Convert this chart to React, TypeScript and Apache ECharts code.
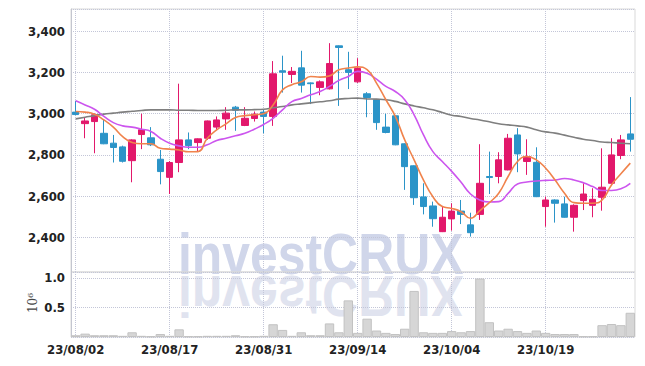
import React, { useEffect, useRef } from "react";
import * as echarts from "echarts";

const dates = [
  "23/08/02", "23/08/03", "23/08/04", "23/08/07", "23/08/08", "23/08/09", "23/08/10", "23/08/11", "23/08/14", "23/08/16",
  "23/08/17", "23/08/18", "23/08/21", "23/08/22", "23/08/23", "23/08/24", "23/08/25", "23/08/28", "23/08/29", "23/08/30",
  "23/08/31", "23/09/01", "23/09/04", "23/09/05", "23/09/06", "23/09/07", "23/09/08", "23/09/11", "23/09/12", "23/09/13",
  "23/09/14", "23/09/15", "23/09/18", "23/09/19", "23/09/20", "23/09/21", "23/09/22", "23/09/25", "23/09/26", "23/09/27",
  "23/10/04", "23/10/05", "23/10/06", "23/10/10", "23/10/11", "23/10/12", "23/10/13", "23/10/16", "23/10/17", "23/10/18",
  "23/10/19", "23/10/20", "23/10/23", "23/10/24", "23/10/25", "23/10/26", "23/10/27", "23/10/30", "23/10/31", "23/11/01",
];

const opens = [
  3008, 2952, 2962, 2905, 2857, 2839, 2772, 2899, 2883, 2779,
  2691, 2763, 2873, 2860, 2881, 2935, 2975, 3032, 2943, 2977,
  3008, 2987, 3209, 3191, 3223, 3150, 3128, 3121, 3330, 3214,
  3155, 3097, 3068, 2935, 2990, 2854, 2747, 2596, 2552, 2427,
  2489, 2527, 2460, 2511, 2695, 2695, 2727, 2897, 2768, 2764,
  2549, 2581, 2562, 2497, 2578, 2555, 2594, 2662, 2797, 2902,
];
const closes = [
  2996, 2965, 2995, 2854, 2836, 2769, 2873, 2922, 2849, 2719,
  2763, 2873, 2845, 2878, 2965, 2970, 3003, 3017, 2978, 2998,
  2987, 3194, 3202, 3206, 3139, 3146, 3155, 3244, 3322, 3201,
  3220, 3079, 2957, 2909, 2849, 2743, 2592, 2549, 2490, 2497,
  2527, 2511, 2422, 2662, 2690, 2776, 2881, 2805, 2792, 2597,
  2581, 2565, 2497, 2555, 2610, 2584, 2643, 2800, 2873, 2876,
];
const lows = [
  2993, 2881, 2808, 2852, 2763, 2763, 2667, 2828, 2843, 2657,
  2610, 2716, 2828, 2816, 2873, 2922, 2922, 2917, 2940, 2962,
  2905, 2941, 3103, 3149, 3103, 3047, 3090, 3118, 3038, 3120,
  3150, 2983, 2922, 2905, 2847, 2630, 2557, 2511, 2451, 2425,
  2432, 2464, 2403, 2484, 2610, 2662, 2725, 2716, 2703, 2595,
  2451, 2471, 2495, 2427, 2532, 2497, 2529, 2660, 2779, 2816,
];
const highs = [
  3063, 2983, 3002, 2970, 2897, 2845, 2876, 3000, 2935, 2824,
  2770, 3146, 2909, 2880, 2967, 2987, 3032, 3038, 3032, 3011,
  3019, 3256, 3282, 3227, 3306, 3152, 3162, 3343, 3332, 3301,
  3270, 3105, 3070, 3000, 2992, 2856, 2749, 2662, 2573, 2552,
  2565, 2581, 2519, 2852, 2816, 2813, 2902, 2930, 2876, 2837,
  2597, 2584, 2597, 2560, 2662, 2638, 2832, 2881, 2897, 3081,
];

const ma5 = [
  3011, 3008, 2998, 2970, 2935, 2889, 2860, 2854, 2854, 2832,
  2828, 2824, 2815, 2816, 2881, 2922, 2951, 2982, 2991, 2995,
  3000, 3043, 3116, 3141, 3155, 3181, 3178, 3184, 3214, 3222,
  3228, 3214, 3149, 3068, 2987, 2873, 2776, 2678, 2597, 2549,
  2540, 2524, 2492, 2529, 2568, 2614, 2695, 2768, 2792, 2776,
  2735, 2678, 2614, 2568, 2565, 2565, 2581, 2654, 2708, 2760,
];
const ma10 = [
  3063, 3043, 3022, 2987, 2957, 2941, 2935, 2925, 2914, 2881,
  2857, 2844, 2837, 2837, 2849, 2870, 2881, 2893, 2905, 2925,
  2948, 2978, 3019, 3059, 3074, 3092, 3108, 3133, 3162, 3181,
  3206, 3197, 3168, 3133, 3108, 3068, 2995, 2897, 2816, 2768,
  2720, 2667, 2610, 2581, 2571, 2573, 2613, 2659, 2668, 2673,
  2676, 2678, 2685, 2678, 2665, 2646, 2627, 2627, 2635, 2662,
];
const maLong = [
  2975, 2983, 2991, 2998, 3003, 3008, 3012, 3016, 3019, 3019,
  3019, 3017, 3017, 3016, 3016, 3016, 3017, 3019, 3019, 3020,
  3022, 3029, 3035, 3043, 3048, 3053, 3058, 3063, 3071, 3074,
  3076, 3072, 3071, 3068, 3060, 3048, 3038, 3029, 3019, 3006,
  2993, 2987, 2977, 2970, 2961, 2951, 2946, 2941, 2935, 2922,
  2912, 2906, 2896, 2886, 2876, 2870, 2863, 2860, 2857, 2854,
];

// volume in millions of shares
const volumeMillions = [
  0.03, 0.057, 0.03, 0.03, 0.03, 0.02, 0.08, 0.02, 0.01, 0.05,
  0.02, 0.13, 0.01, 0.01, 0.02, 0.02, 0.02, 0.03, 0.01, 0.01,
  0.02, 0.216, 0.12, 0.02, 0.08, 0.03, 0.03, 0.23, 0.08, 0.62,
  0.07, 0.31, 0.11, 0.07, 0.05, 0.14, 0.78, 0.08, 0.07, 0.07,
  0.1, 0.08, 0.1, 0.99, 0.25, 0.11, 0.14, 0.1, 0.07, 0.11,
  0.07, 0.05, 0.05, 0.05, 0.01, 0.01, 0.2, 0.22, 0.2, 0.41,
];

const LABEL_FONT = "DejaVu Sans Condensed";
const UP = "#e2186b";
const DOWN = "#2b94c8";
const SPLIT = { type: "dotted" as const, color: "#c3c6d8", width: 1 };

export default function App() {
  const ref = useRef<HTMLDivElement>(null);

  useEffect(() => {
    if (!ref.current) return;
    const chart = echarts.init(ref.current, undefined, { renderer: "svg" });
    const candleData = dates.map((_, i) => [opens[i], closes[i], lows[i], highs[i]]);

    const wmStyle = (fill: string) => ({
      text: "investCRUX",
      fontFamily: "Liberation Sans",
      fontWeight: "bold",
      fontSize: 58,
      fill,
      textAlign: "left",
      textVerticalAlign: "middle",
    });
    const labelCommon = { fontFamily: LABEL_FONT, fontSize: 13, fontWeight: "bold", color: "#222" };

    const option: any = {
      animation: false,
      backgroundColor: "#ffffff",
      grid: [
        { left: 71, right: 10, top: 9, height: 263, show: true, borderColor: "#d9d9d9", borderWidth: 1, backgroundColor: "transparent" },
        { left: 71, right: 10, top: 272, height: 65, show: true, borderColor: "#d9d9d9", borderWidth: 1, backgroundColor: "transparent" },
      ],
      xAxis: [
        {
          type: "category", gridIndex: 0, data: dates, boundaryGap: true,
          axisLine: { show: false }, axisTick: { show: false }, axisLabel: { show: false },
          splitLine: { show: true, interval: 9, alignWithLabel: true, lineStyle: SPLIT },
        },
        {
          type: "category", gridIndex: 1, data: dates, boundaryGap: true,
          axisLine: { show: false }, axisTick: { show: false },
          axisLabel: { ...labelCommon, interval: 9, margin: 6 },
          splitLine: { show: true, interval: 9, alignWithLabel: true, lineStyle: SPLIT },
        },
      ],
      yAxis: [
        {
          type: "value", gridIndex: 0, min: 2231, max: 3509, splitNumber: 6, minInterval: 200, maxInterval: 200,
          axisLine: { show: true, lineStyle: { color: "#c4c6d0" } }, axisTick: { show: false },
          axisLabel: {
            ...labelCommon, margin: 6,
            formatter: (v: number) => (Math.round(v) % 200 === 0 ? Math.round(v).toLocaleString("en-US") : ""),
          },
          splitLine: { show: true, lineStyle: SPLIT },
        },
        {
          type: "value", gridIndex: 1, min: 0, max: 1.1, interval: 0.5,
          axisLine: { show: true, lineStyle: { color: "#c4c6d0" } }, axisTick: { show: false },
          axisLabel: {
            ...labelCommon, margin: 6,
            formatter: (v: number) => (v > 0 && Math.abs(v * 2 - Math.round(v * 2)) < 1e-6 ? v.toFixed(1) : ""),
          },
          splitLine: { show: true, lineStyle: SPLIT },
        },
      ],
      graphic: [
        {
          type: "group", x: 178, y: 275, scaleX: 0.86, z: -5,
          children: [{ type: "text", z: -5, x: 0, y: -21, style: wmStyle("#d0d6ea") }],
        },
        {
          type: "group", x: 178, y: 275, scaleX: 0.86, scaleY: -1, z: -5,
          children: [{ type: "text", z: -5, x: 0, y: -21, style: wmStyle("#e0e3ef") }],
        },
        {
          type: "text", x: 33, y: 303, rotation: Math.PI / 2,
          style: { text: "10⁶", fontFamily: "DejaVu Serif", fontSize: 12, fill: "#444", textAlign: "center", textVerticalAlign: "middle" },
        },
      ],
      series: [
        {
          type: "candlestick", xAxisIndex: 0, yAxisIndex: 0, data: candleData, barWidth: 7, z: 3,
          itemStyle: { color: UP, color0: DOWN, borderColor: UP, borderColor0: DOWN, borderWidth: 1 },
        },
        {
          type: "line", xAxisIndex: 0, yAxisIndex: 0, data: maLong, smooth: true, showSymbol: false, symbol: "none", z: 4,
          lineStyle: { color: "#7f7f7f", width: 1.6 },
        },
        {
          type: "line", xAxisIndex: 0, yAxisIndex: 0, data: ma10, smooth: true, showSymbol: false, symbol: "none", z: 4,
          lineStyle: { color: "#cc55ee", width: 1.6 },
        },
        {
          type: "line", xAxisIndex: 0, yAxisIndex: 0, data: ma5, smooth: true, showSymbol: false, symbol: "none", z: 4,
          lineStyle: { color: "#f0834c", width: 1.6 },
        },
        {
          type: "bar", xAxisIndex: 1, yAxisIndex: 1, data: volumeMillions, barCategoryGap: "0%", z: 3,
          itemStyle: { color: "#d6d6d6", borderColor: "#c2c2c2", borderWidth: 1 },
        },
      ],
    };
    chart.setOption(option);
    return () => chart.dispose();
  }, []);

  return <div ref={ref} style={{ position: "fixed", left: 0, top: 0, width: 645, height: 366, background: "#fff" }} />;
}
